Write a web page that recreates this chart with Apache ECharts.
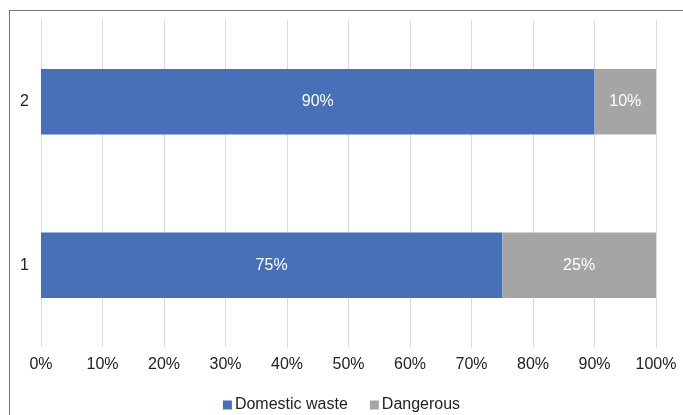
<!DOCTYPE html>
<html>
<head>
<meta charset="utf-8">
<script src="https://cdn.jsdelivr.net/npm/echarts@6/dist/echarts.min.js"></script>
<style>
  html, body { margin: 0; padding: 0; background: #fff; }
  #frame {
    position: absolute; left: 9px; top: 10px; width: 700px; height: 420px;
    border-left: 1px solid #767676; border-top: 1px solid #767676;
  }
  #chart { position: absolute; left: 0; top: 0; width: 683px; height: 415px; }
</style>
</head>
<body>
<div id="frame"></div>
<div id="chart"></div>
<script>
const categories = ['1', '2'];
const domesticWaste = [75, 90];
const dangerous = [25, 10];
const xTicks = [0, 10, 20, 30, 40, 50, 60, 70, 80, 90, 100];

const chart = echarts.init(document.getElementById('chart'));
const labelStyle = {
  show: true,
  position: 'inside',
  color: '#fff',
  fontFamily: 'Liberation Sans, Arial',
  fontSize: 16,
  formatter: p => p.value + '%'
};
const option = {
  animation: false,
  textStyle: { fontFamily: 'Liberation Sans, Arial' },
  grid: { left: 41, right: 27, top: 20, bottom: 68 },
  legend: {
    top: 392,
    left: 'center',
    itemWidth: 9,
    itemHeight: 9,
    itemGap: 22,
    icon: 'rect',
    textStyle: { color: '#222', fontSize: 16, padding: [0, 0, 0, -2] },
    data: ['Domestic waste', 'Dangerous']
  },
  xAxis: {
    type: 'value',
    min: xTicks[0],
    max: xTicks[xTicks.length - 1],
    interval: 10,
    axisLine: { show: false },
    axisTick: { show: false },
    splitLine: { lineStyle: { color: '#d9d9d9', width: 1 } },
    axisLabel: { color: '#222', fontSize: 16, margin: 10, formatter: v => v + '%' }
  },
  yAxis: {
    type: 'category',
    data: categories,
    axisLine: { show: false },
    axisTick: { show: false },
    axisLabel: { color: '#222', fontSize: 16, margin: 12 }
  },
  series: [
    {
      name: 'Domestic waste',
      type: 'bar',
      stack: 'total',
      barCategoryGap: '60%',
      itemStyle: { color: '#4870b8' },
      label: labelStyle,
      data: domesticWaste
    },
    {
      name: 'Dangerous',
      type: 'bar',
      stack: 'total',
      itemStyle: { color: '#a5a5a5' },
      label: labelStyle,
      data: dangerous
    }
  ]
};
chart.setOption(option);
</script>
</body>
</html>
